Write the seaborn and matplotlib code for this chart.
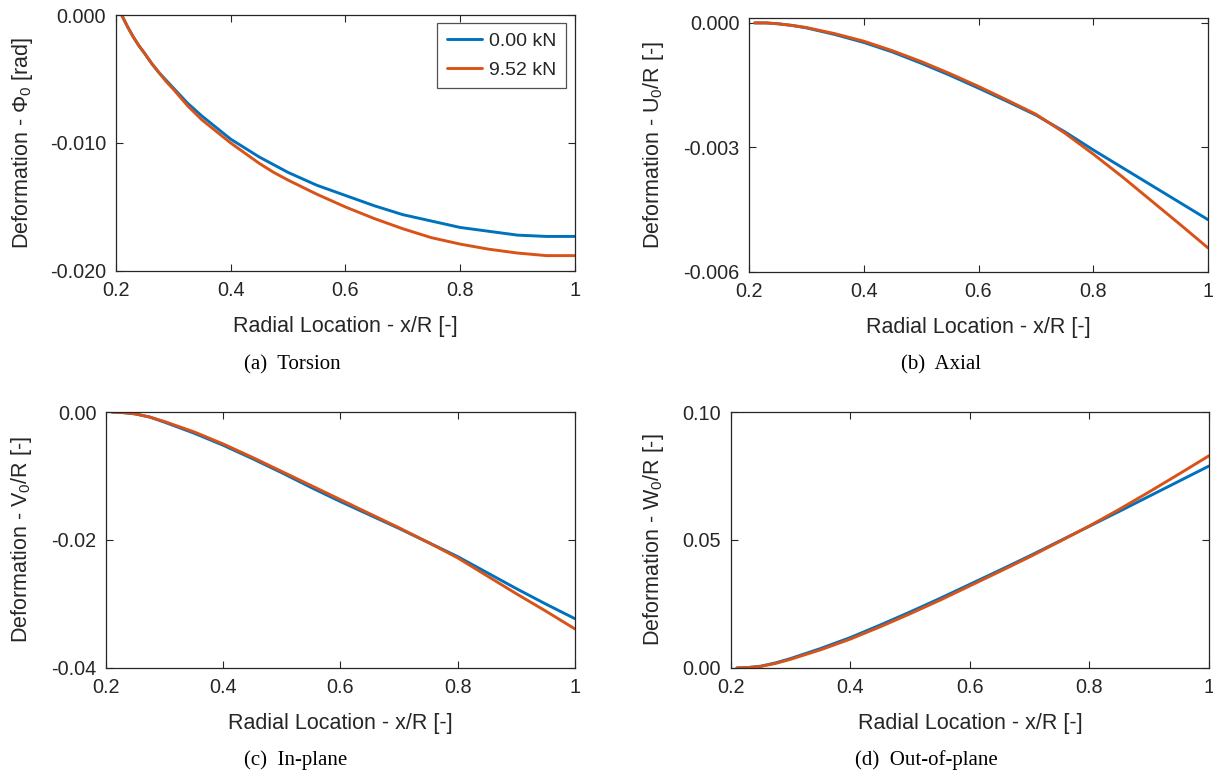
import matplotlib
matplotlib.use("Agg")
import matplotlib.pyplot as plt
import pandas as pd
import seaborn as sns

# Radial stations along the blade (x/R); torsion is sampled finer near the root
x_torsion = [0.21, 0.22, 0.23, 0.24, 0.25, 0.2625, 0.275, 0.2875, 0.30, 0.325,
             0.35, 0.375, 0.40, 0.425, 0.45, 0.475, 0.50, 0.55, 0.60, 0.65, 0.70,
             0.75, 0.80, 0.85, 0.90, 0.95, 1.00]
x_r = [0.21, 0.23, 0.25, 0.275, 0.30, 0.35, 0.40, 0.45, 0.50, 0.55, 0.60,
       0.65, 0.70, 0.75, 0.80, 0.85, 0.90, 0.95, 1.00]

load_labels = ["0.00 kN", "9.52 kN"]

# (a) Torsion, Phi_0 [rad]
torsion_0 = [0.0, -0.0009, -0.0017, -0.0024, -0.0030, -0.0038, -0.0045, -0.0051,
             -0.0057, -0.0069, -0.0079, -0.0088, -0.0097, -0.0104, -0.0111,
             -0.0117, -0.0123, -0.0133, -0.0141, -0.0149, -0.0156, -0.0161,
             -0.0166, -0.0169, -0.0172, -0.0173, -0.0173]
torsion_1 = [0.0, -0.0009, -0.0017, -0.0024, -0.0030, -0.0038, -0.0045, -0.0052,
             -0.0058, -0.0071, -0.0082, -0.0091, -0.0100, -0.0108, -0.0116,
             -0.0123, -0.0129, -0.0140, -0.0150, -0.0159, -0.0167, -0.0174,
             -0.0179, -0.0183, -0.0186, -0.0188, -0.0188]

# (b) Axial, U_0/R [-]
axial_0 = [0.0, 0.0, -0.00002, -0.00006, -0.00012, -0.00028, -0.00047, -0.00070,
           -0.00097, -0.00126, -0.00157, -0.00189, -0.00222, -0.00262, -0.00306,
           -0.00348, -0.00390, -0.00432, -0.00474]
axial_1 = [0.0, 0.0, -0.00002, -0.00006, -0.00011, -0.00026, -0.00044, -0.00067,
           -0.00093, -0.00122, -0.00153, -0.00186, -0.00220, -0.00265, -0.00316,
           -0.00370, -0.00427, -0.00484, -0.00542]

# (c) In-plane, V_0/R [-]
inplane_0 = [0.0, -0.0001, -0.0003, -0.0008, -0.0016, -0.0033, -0.0052, -0.0073,
             -0.0095, -0.0118, -0.0140, -0.0161, -0.0182, -0.0204, -0.0226,
             -0.0251, -0.0276, -0.0300, -0.0323]
inplane_1 = [0.0, -0.0001, -0.0003, -0.0008, -0.0015, -0.0031, -0.0050, -0.0071,
             -0.0093, -0.0115, -0.0137, -0.0159, -0.0181, -0.0204, -0.0228,
             -0.0256, -0.0284, -0.0311, -0.0339]

# (d) Out-of-plane, W_0/R [-]
outplane_0 = [0.0, 0.0002, 0.0007, 0.0020, 0.0037, 0.0076, 0.0119, 0.0168, 0.0219,
              0.0272, 0.0327, 0.0382, 0.0438, 0.0496, 0.0554, 0.0612, 0.0671,
              0.0730, 0.0789]
outplane_1 = [0.0, 0.0002, 0.0006, 0.0018, 0.0034, 0.0071, 0.0113, 0.0161, 0.0212,
              0.0265, 0.0321, 0.0377, 0.0434, 0.0494, 0.0555, 0.0620, 0.0688,
              0.0758, 0.0829]

x_ticks = [0.2, 0.4, 0.6, 0.8, 1.0]
x_ticklabels = ["0.2", "0.4", "0.6", "0.8", "1"]

panels = [
    dict(x=x_torsion, series=(torsion_0, torsion_1), ylim=(-0.020, 0.0),
         yticks=[-0.020, -0.010, 0.0], yticklabels=["-0.020", "-0.010", "0.000"],
         ylabel=r"Deformation - $\Phi_{0}$ [rad]", caption="(a)  Torsion",
         rect=[0.0956, 0.6499, 0.3784, 0.3307], cap_xy=(292, 365), ylab_px=22),
    dict(x=x_r, series=(axial_0, axial_1), ylim=(-0.006, 0.00012),
         yticks=[-0.006, -0.003, 0.0], yticklabels=["-0.006", "-0.003", "0.000"],
         ylabel=r"Deformation - U$_{0}$/R [-]", caption="(b)  Axial",
         rect=[0.6175, 0.6486, 0.3784, 0.3282], cap_xy=(941, 365), ylab_px=654),
    dict(x=x_r, series=(inplane_0, inplane_1), ylim=(-0.04, 0.0),
         yticks=[-0.04, -0.02, 0.0], yticklabels=["-0.04", "-0.02", "0.00"],
         ylabel=r"Deformation - V$_{0}$/R [-]", caption="(c)  In-plane",
         rect=[0.0874, 0.1370, 0.3866, 0.3307], cap_xy=(296, 760), ylab_px=22),
    dict(x=x_r, series=(outplane_0, outplane_1), ylim=(0.0, 0.10),
         yticks=[0.0, 0.05, 0.10], yticklabels=["0.00", "0.05", "0.10"],
         ylabel=r"Deformation - W$_{0}$/R [-]", caption="(d)  Out-of-plane",
         rect=[0.6026, 0.1370, 0.3941, 0.3307], cap_xy=(926, 760), ylab_px=654),
]

sns.set_theme(style="ticks")
plt.rcParams["font.family"] = ["Liberation Sans", "DejaVu Sans"]
plt.rcParams["mathtext.fontset"] = "custom"
plt.rcParams["mathtext.rm"] = "Liberation Sans"
plt.rcParams["mathtext.it"] = "Liberation Serif:italic"

W, H = 1213, 774
fig = plt.figure(figsize=(W / 100, H / 100), dpi=100)
palette = {load_labels[0]: "#0072BD", load_labels[1]: "#D95319"}
frame_color = "#262626"

for i, p in enumerate(panels):
    ax = fig.add_axes(p["rect"])
    xs = p["x"]
    df = pd.DataFrame({
        "x": list(xs) * 2,
        "y": list(p["series"][0]) + list(p["series"][1]),
        "load": [load_labels[0]] * len(xs) + [load_labels[1]] * len(xs),
    })
    sns.lineplot(data=df, x="x", y="y", hue="load", hue_order=load_labels,
                 palette=palette, linewidth=2.1, sort=False, ax=ax,
                 legend=(i == 0))
    ax.set_xlim(0.2, 1.0)
    ax.set_ylim(*p["ylim"])
    ax.set_xticks(x_ticks)
    ax.set_xticklabels(x_ticklabels)
    ax.set_yticks(p["yticks"])
    ax.set_yticklabels(p["yticklabels"])
    ax.tick_params(direction="in", length=5, width=0.8, top=True, right=True,
                   labelsize=14.3, colors=frame_color, pad=7)
    for s in ax.spines.values():
        s.set_visible(True)
        s.set_linewidth(0.9)
        s.set_color(frame_color)
    ax.set_xlabel("Radial Location - x/R [-]", fontsize=15.5, color=frame_color,
                  va="center")
    ax.xaxis.set_label_coords(0.5, -56 / 256)
    ax.set_ylabel(p["ylabel"], fontsize=15.5, color=frame_color, va="center")
    l_px = p["rect"][0] * W
    ax.yaxis.set_label_coords((p["ylab_px"] - l_px) / (p["rect"][2] * W), 0.5)
    fig.text(p["cap_xy"][0] / W, 1 - p["cap_xy"][1] / H, p["caption"],
             family="Liberation Serif", fontsize=15, ha="center", va="center",
             color="black")
    if i == 0:
        leg = ax.legend(loc="upper right", bbox_to_anchor=(0.980, 0.969),
                        borderaxespad=0, fontsize=14, frameon=True, fancybox=False,
                        handlelength=1.8, handletextpad=0.35, labelspacing=0.55,
                        borderpad=0.5, title=None)
        leg.get_frame().set_edgecolor(frame_color)
        leg.get_frame().set_linewidth(0.9)
        for t in leg.get_texts():
            t.set_color(frame_color)

fig.savefig("out.png", dpi=100)
